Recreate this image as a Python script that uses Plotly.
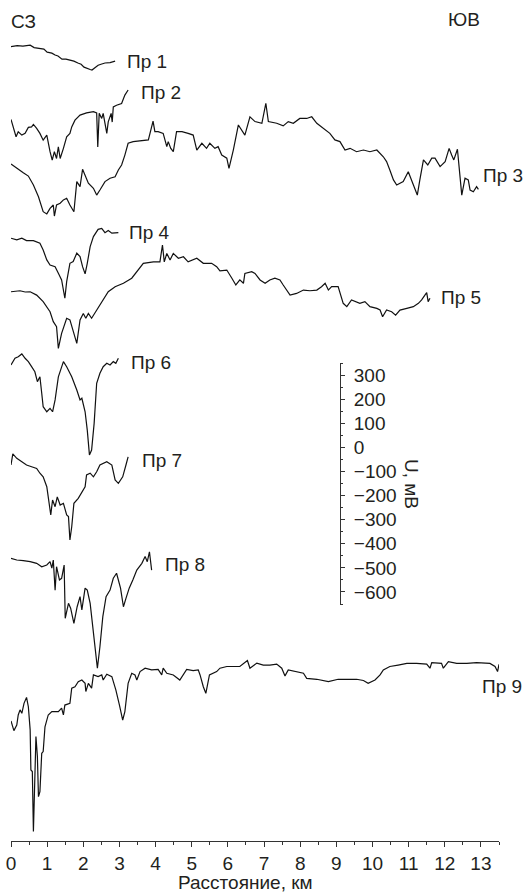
import plotly.graph_objects as go

# ---------------- data (distance, km ; U, mV relative to profile start) ----------------
p1_x = [0, 0.17, 0.33, 0.53, 0.64, 0.80, 0.91, 1.00, 1.13, 1.22, 1.30, 1.41, 1.52, 1.63, 1.74, 1.85, 1.94, 2.02, 2.10, 2.19, 2.24, 2.32, 2.41, 2.49, 2.60, 2.74, 2.88]
p1_u = [0, 4, 2, 6, -4, -6, -10, -23, -27, -35, -39, -52, -52, -56, -60, -68, -73, -85, -91, -95, -97, -89, -77, -73, -68, -66, -60]

p2_x = [0, 0.06, 0.14, 0.20, 0.30, 0.39, 0.48, 0.57, 0.62, 0.71, 0.80, 0.89, 0.99, 1.08, 1.14, 1.20, 1.26, 1.31, 1.36, 1.45, 1.54, 1.63, 1.68, 1.77, 1.91, 2.09, 2.28, 2.37, 2.40, 2.44, 2.51, 2.55, 2.65, 2.69, 2.77, 2.80, 2.83, 2.92, 3.06, 3.15, 3.24]
p2_u = [0, -31, -72, -51, -65, -58, -33, -31, -21, -37, -58, -86, -65, -134, -169, -134, -162, -114, -162, -120, -72, -58, -31, -3, 18, 27, 32, 27, -114, 25, 4, 25, -58, -10, 25, -11, 52, 59, 66, 101, 122]

p3_x = [0, 0.16, 0.34, 0.48, 0.62, 0.76, 0.89, 0.99, 1.08, 1.17, 1.20, 1.26, 1.36, 1.45, 1.54, 1.63, 1.74, 1.82, 1.91, 1.98, 2.05, 2.14, 2.28, 2.37, 2.46, 2.60, 2.74, 2.88, 2.97, 3.06, 3.15, 3.24, 3.38, 3.57, 3.80, 3.93, 3.98, 4.07, 4.21, 4.31, 4.35, 4.42, 4.49, 4.58, 4.73, 4.90, 5.04, 5.14, 5.28, 5.41, 5.50, 5.64, 5.73, 5.83, 5.97, 6.03, 6.15, 6.29, 6.47, 6.61, 6.75, 6.94, 7.05, 7.12, 7.35, 7.53, 7.67, 7.81, 7.99, 8.18, 8.32, 8.46, 8.64, 8.82, 8.96, 9.10, 9.24, 9.38, 9.56, 9.75, 9.93, 10.12, 10.30, 10.39, 10.48, 10.58, 10.67, 10.85, 10.99, 11.13, 11.24, 11.31, 11.41, 11.53, 11.64, 11.73, 11.87, 12.01, 12.12, 12.19, 12.25, 12.35, 12.47, 12.56, 12.65, 12.70, 12.79, 12.88, 12.93]
p3_u = [0, -18, -36, -50, -87, -136, -198, -207, -184, -170, -216, -170, -163, -149, -142, -170, -198, -73, -94, -22, -46, -80, -101, -129, -108, -73, -59, -53, -25, -4, 37, 86, 93, 95, 100, 178, 134, 134, 127, 72, 93, 65, 51, 134, 134, 127, 120, 58, 86, 65, 86, 65, 72, 37, 24, -18, 58, 162, 120, 196, 176, 169, 252, 176, 169, 158, 176, 169, 189, 189, 196, 169, 148, 127, 100, 93, 58, 65, 51, 58, 51, 58, 30, 10, -25, -66, -87, -73, -32, -87, -129, -66, 17, -4, 24, 24, -11, 10, 65, 37, 17, 61, -129, -59, -66, -108, -115, -94, -105]

p4_x = [0, 0.16, 0.30, 0.43, 0.62, 0.80, 0.89, 0.99, 1.08, 1.22, 1.31, 1.40, 1.49, 1.54, 1.63, 1.72, 1.82, 1.91, 1.98, 2.05, 2.11, 2.19, 2.28, 2.41, 2.51, 2.60, 2.69, 2.79, 2.97]
p4_u = [0, -7, 0, -10, -10, -21, -49, -90, -111, -118, -145, -173, -249, -180, -104, -97, -62, -76, -118, -148, -104, -35, 7, 37, 41, 23, 32, 21, 23]

p5_x = [0, 0.25, 0.39, 0.53, 0.71, 0.89, 1.08, 1.17, 1.26, 1.31, 1.40, 1.54, 1.63, 1.72, 1.82, 1.91, 2.00, 2.07, 2.14, 2.23, 2.46, 2.69, 2.88, 3.11, 3.34, 3.48, 3.66, 3.94, 4.12, 4.19, 4.24, 4.31, 4.40, 4.49, 4.63, 4.77, 4.90, 5.14, 5.32, 5.55, 5.69, 5.78, 5.97, 6.11, 6.22, 6.33, 6.43, 6.47, 6.66, 6.75, 6.89, 7.03, 7.16, 7.30, 7.44, 7.53, 7.72, 7.90, 8.09, 8.27, 8.46, 8.59, 8.69, 8.78, 8.87, 9.05, 9.19, 9.29, 9.42, 9.65, 9.79, 9.93, 10.12, 10.21, 10.28, 10.39, 10.53, 10.64, 10.76, 10.95, 11.13, 11.27, 11.36, 11.45, 11.50, 11.54, 11.59]
p5_u = [0, 4, -1, 0, -14, -41, -83, -124, -145, -235, -173, -110, -117, -166, -214, -117, -90, -110, -90, -110, -55, 0, 21, 35, 56, 83, 118, 124, 124, 194, 124, 159, 132, 159, 139, 145, 124, 139, 118, 118, 104, 87, 90, 56, 28, 49, 35, 76, 83, 76, 49, 35, 49, 56, 49, 28, -14, -7, 7, 4, 7, 21, 35, 7, 21, 21, -48, -62, -34, -48, -41, -62, -69, -76, -104, -76, -83, -97, -76, -69, -62, -48, -34, -14, -4, -41, -27]

p6_x = [0, 0.11, 0.20, 0.30, 0.39, 0.48, 0.57, 0.66, 0.73, 0.80, 0.85, 0.89, 0.99, 1.08, 1.15, 1.22, 1.31, 1.45, 1.54, 1.68, 1.82, 1.91, 1.96, 2.05, 2.11, 2.17, 2.23, 2.30, 2.37, 2.46, 2.55, 2.65, 2.74, 2.83, 2.90, 2.97]
p6_u = [0, 28, 34, 46, 28, 14, -7, -28, -69, -49, -117, -173, -194, -180, -194, -145, -49, 14, -7, -49, -104, -145, -138, -194, -270, -373, -353, -242, -76, -34, -7, 7, 0, 14, 7, 28]

p7_x = [0, 0.05, 0.16, 0.30, 0.43, 0.57, 0.71, 0.80, 0.89, 0.99, 1.06, 1.10, 1.15, 1.22, 1.28, 1.36, 1.45, 1.54, 1.59, 1.63, 1.68, 1.74, 1.86, 1.96, 2.05, 2.09, 2.19, 2.28, 2.37, 2.46, 2.65, 2.79, 2.88, 2.97, 3.09, 3.18, 3.24]
p7_u = [0, 46, 28, 14, 0, -7, -14, -34, -49, -90, -159, -207, -145, -173, -132, -166, -159, -207, -214, -311, -256, -159, -138, -111, -90, -41, -34, -49, -28, 0, 14, 0, -62, -76, -49, 0, 34]

p8_x = [0, 0.16, 0.34, 0.53, 0.71, 0.85, 0.99, 1.08, 1.13, 1.17, 1.22, 1.26, 1.34, 1.40, 1.47, 1.50, 1.59, 1.65, 1.74, 1.83, 1.91, 1.96, 2.05, 2.11, 2.19, 2.26, 2.32, 2.39, 2.46, 2.54, 2.63, 2.74, 2.83, 2.92, 3.03, 3.11, 3.18, 3.27, 3.37, 3.48, 3.62, 3.71, 3.77, 3.83, 3.89]
p8_u = [0, -7, -10, -14, -21, -35, -28, -14, -41, -7, -132, -35, -90, -83, -28, -249, -187, -207, -270, -201, -159, -214, -124, -132, -187, -284, -380, -456, -367, -242, -159, -132, -83, -62, -124, -201, -166, -124, -90, -49, -21, 7, -14, 27, -49]

p9_x = [0, 0.08, 0.16, 0.20, 0.25, 0.30, 0.36, 0.43, 0.48, 0.53, 0.55, 0.59, 0.62, 0.66, 0.69, 0.73, 0.76, 0.80, 0.85, 0.89, 0.94, 1.03, 1.13, 1.31, 1.40, 1.45, 1.49, 1.63, 1.68, 1.77, 1.86, 1.96, 2.05, 2.07, 2.14, 2.23, 2.28, 2.41, 2.51, 2.55, 2.65, 2.79, 2.90, 3.00, 3.09, 3.15, 3.24, 3.34, 3.43, 3.48, 3.57, 3.71, 3.89, 4.07, 4.17, 4.21, 4.31, 4.49, 4.67, 4.86, 5.04, 5.18, 5.23, 5.32, 5.39, 5.49, 5.69, 5.78, 5.97, 6.15, 6.33, 6.54, 6.61, 6.80, 6.98, 7.16, 7.35, 7.49, 7.58, 7.67, 7.90, 8.09, 8.18, 8.46, 8.78, 9.05, 9.29, 9.56, 9.75, 9.88, 10.07, 10.21, 10.30, 10.48, 10.71, 10.95, 11.22, 11.50, 11.59, 11.64, 11.91, 11.96, 12.10, 12.33, 12.61, 12.88, 13.25, 13.39, 13.46, 13.50]
p9_u = [0, -40, -17, 25, 46, 32, 73, 98, 59, -37, -203, -210, -459, -217, -65, -148, -314, -293, -134, -127, -24, 25, 39, 39, 53, 25, 66, 73, 136, 142, 163, 170, 156, 122, 156, 136, 191, 184, 191, 170, 194, 184, 129, 66, 4, 39, 156, 198, 191, 170, 205, 219, 212, 214, 191, 219, 198, 191, 170, 214, 209, 212, 191, 142, 115, 191, 205, 219, 226, 226, 226, 251, 219, 240, 232, 232, 236, 219, 187, 212, 205, 198, 177, 173, 163, 173, 173, 173, 168, 156, 170, 191, 212, 226, 232, 239, 239, 236, 219, 242, 239, 219, 246, 239, 239, 242, 239, 226, 205, 235]

profiles = ["Пр 1", "Пр 2", "Пр 3", "Пр 4", "Пр 5", "Пр 6", "Пр 7", "Пр 8", "Пр 9"]
series_x = [p1_x, p2_x, p3_x, p4_x, p5_x, p6_x, p7_x, p8_x, p9_x]
series_u = [p1_u, p2_u, p3_u, p4_u, p5_u, p6_u, p7_u, p8_u, p9_u]

scale_ticks = [300, 200, 100, 0, -100, -200, -300, -400, -500, -600]
x_ticks = list(range(0, 14))

# ---------------- layout (vertical stacking offsets, mV) ----------------
offsets = [3296, 2994, 2809, 2501, 2279, 1975, 1560, 1173, 498]

W, H = 527, 896
ML, MR, MT, MB = 11, 28, 30, 55
PW, PH = W - ML - MR, H - MT - MB
Y_RANGE = [0, 3365]
FONT = "Liberation Sans, Arial, sans-serif"
TXT = "#231f20"
FS = 19


def paper_x(px):
    return (px - ML) / PW


def paper_y(py):
    return (H - MB - py) / PH


fig = go.Figure()
for xs, us, off in zip(series_x, series_u, offsets):
    fig.add_trace(go.Scatter(
        x=xs, y=[u + off for u in us], mode="lines",
        line=dict(color="#111111", width=1.2), showlegend=False, hoverinfo="skip"))

# dummy trace to create the scale-bar axis
fig.add_trace(go.Scatter(x=[], y=[], yaxis="y2", showlegend=False, hoverinfo="skip"))

label_pos = [(125, 61), (139, 92), (480.5, 176), (126.5, 233), (439, 297.5),
             (128.5, 362), (139.5, 461), (162.5, 564), (480, 686)]
annotations = []
for name, (lx, ly) in zip(profiles, label_pos):
    annotations.append(dict(text=name, x=paper_x(lx), y=paper_y(ly), xref="paper", yref="paper",
                            xanchor="left", yanchor="middle", showarrow=False,
                            font=dict(size=FS, color=TXT, family=FONT)))
annotations += [
    dict(text="СЗ", x=paper_x(9), y=paper_y(21), xref="paper", yref="paper", xanchor="left",
         yanchor="middle", showarrow=False, font=dict(size=FS, color=TXT, family=FONT)),
    dict(text="ЮВ", x=paper_x(446), y=paper_y(20), xref="paper", yref="paper", xanchor="left",
         yanchor="middle", showarrow=False, font=dict(size=FS, color=TXT, family=FONT)),
    dict(text="U, мВ", x=paper_x(412), y=paper_y(484), xref="paper", yref="paper", xanchor="center",
         yanchor="middle", textangle=90, showarrow=False, font=dict(size=FS, color=TXT, family=FONT)),
    dict(text="Расстояние, км", x=paper_x(245.5), y=paper_y(883), xref="paper", yref="paper",
         xanchor="center", yanchor="middle", showarrow=False, font=dict(size=FS, color=TXT, family=FONT)),
]

fig.update_layout(
    width=W, height=H, margin=dict(l=ML, r=MR, t=MT, b=MB, pad=0, autoexpand=False),
    paper_bgcolor="white", plot_bgcolor="rgba(0,0,0,0)", showlegend=False,
    xaxis=dict(range=[0, 13.5], showgrid=False, zeroline=False, showline=True, linecolor="#333333",
               linewidth=1, ticks="outside", ticklen=5, tickcolor="#333333", tickvals=x_ticks,
               minor=dict(ticks="outside", ticklen=3, dtick=0.5, tick0=0, tickcolor="#333333"),
               tickfont=dict(size=FS, color=TXT, family=FONT), ticklabeloverflow="allow",
               automargin=False, fixedrange=True),
    yaxis=dict(range=Y_RANGE, visible=False, automargin=False, fixedrange=True),
    yaxis2=dict(anchor="free", position=paper_x(340), side="right",
                domain=[paper_y(605), paper_y(363)], range=[-654, 350],
                showgrid=False, zeroline=False, showline=True, linecolor="#333333", linewidth=1,
                ticks="outside", ticklen=4, tickcolor="#333333", tickvals=scale_ticks,
                minor=dict(ticks="outside", ticklen=2, dtick=50, tick0=0, tickcolor="#333333"),
                tickfont=dict(size=FS, color=TXT, family=FONT), ticklabelstandoff=5,
                ticklabeloverflow="allow", automargin=False, fixedrange=True),
    annotations=annotations,
)

# remove the default 8 px page margin so the figure sits at the window's corner
fig.write_html("out.html", config={"displayModeBar": False},
               post_script="document.body.style.margin='0px';document.body.style.overflow='hidden';")
